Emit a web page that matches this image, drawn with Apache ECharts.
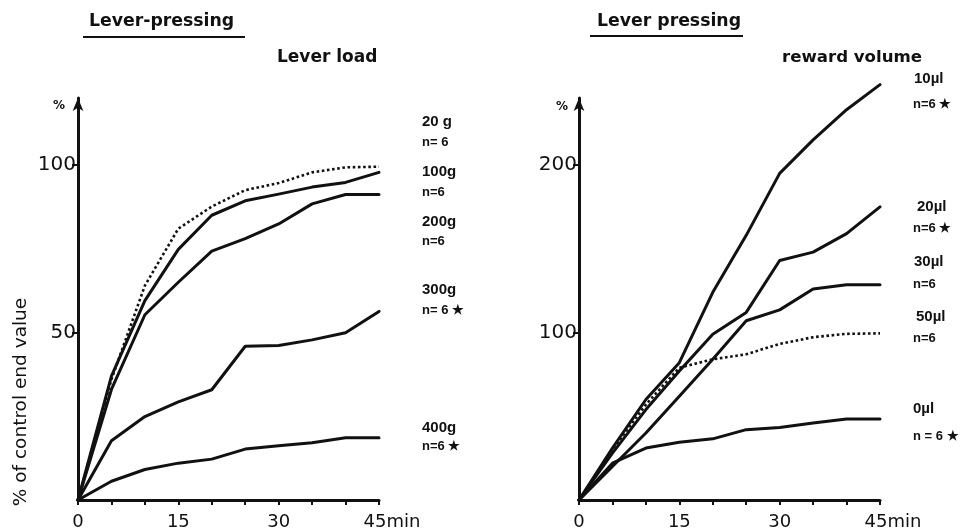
<!DOCTYPE html>
<html><head><meta charset="utf-8">
<script src="https://cdn.jsdelivr.net/npm/echarts@6/dist/echarts.min.js"></script>
<style>html,body{margin:0;padding:0;background:#fff}#c{width:960px;height:531px}</style>
</head><body><div id="c"></div>
<script>
// ---- data ----
const minutes = [0, 5, 10, 15, 20, 25, 30, 35, 40, 45];

const loadNames = ['20 g', '100g', '200g', '300g', '400g'];
const loadN = ['n= 6', 'n=6', 'n=6', 'n= 6 ★', 'n=6 ★'];
const load20 = [0, 36, 64, 81, 87.6, 92.5, 94.6, 97.8, 99.3, 99.5];
const load100 = [0, 37, 59.5, 74.8, 85, 89.3, 91.3, 93.4, 94.8, 97.8];
const load200 = [0, 33, 55.3, 65, 74.3, 78, 82.4, 88.4, 91.2, 91.2];
const load300 = [0, 17.7, 24.9, 29.3, 32.9, 45.9, 46.1, 47.8, 49.9, 56.3];
const load400 = [0, 5.6, 9.1, 11, 12.2, 15.2, 16.2, 17.1, 18.6, 18.6];

const volNames = ['10µl', '20µl', '30µl', '50µl', '0µl'];
const volN = ['n=6 ★', 'n=6 ★', 'n=6', 'n=6', 'n = 6 ★'];
const vol10 = [0, 31, 60, 82, 124, 158, 195, 215, 233, 248];
const vol20 = [0, 28, 54, 77, 99, 112, 143, 148, 159, 175];
const vol30 = [0, 20, 40, 62, 84, 107, 113.5, 126, 128.5, 128.5];
const vol50 = [0, 30, 57, 79, 84, 87, 93.2, 97.2, 99.2, 99.5];
const vol0 = [0, 22, 31, 34.5, 36.5, 42, 43.3, 46, 48.3, 48.3];

const xTickLabels = [0, 15, 30, 45];
const leftYTickLabels = [50, 100];
const rightYTickLabels = [100, 200];

// ---- chart ----
const INK = '#111';
const TICKF = 'DejaVu Sans';
const LABF = 'Liberation Sans';

function ser(g, vals, dotted) {
  return {
    type: 'line', xAxisIndex: g, yAxisIndex: g, symbol: 'none', animation: false, clip: false,
    data: minutes.map((m, i) => [m, vals[i]]),
    lineStyle: { color: INK, width: dotted ? 2.6 : 3, type: dotted ? 'dotted' : 'solid', cap: dotted ? 'butt' : 'round', join: 'round' }
  };
}
function xAx(g) {
  return {
    type: 'value', gridIndex: g, min: 0, max: 45, interval: 5,
    axisLine: { lineStyle: { color: INK, width: 3 } },
    axisTick: { show: true, length: 5, customValues: minutes, lineStyle: { color: INK, width: 2 } },
    splitLine: { show: false },
    axisLabel: {
      customValues: xTickLabels, margin: 13, color: INK, fontFamily: TICKF, fontSize: 18,
      formatter: v => v === 45 ? '{sp|}45{u|min}' : String(v),
      rich: { sp: { width: 26 }, u: { fontFamily: TICKF, fontSize: 18, color: INK } }
    }
  };
}
function yAx(g, max, ticks) {
  return {
    type: 'value', gridIndex: g, min: 0, max: max,
    axisLine: { show: true, symbol: ['none', 'arrow'], symbolSize: [8, 13], lineStyle: { color: INK, width: 3 } },
    axisTick: { show: true, length: 6, customValues: ticks, lineStyle: { color: INK, width: 2 } },
    splitLine: { show: false },
    axisLabel: { customValues: ticks, margin: 2, color: INK, fontFamily: TICKF, fontSize: 20 }
  };
}

const graphics = [];
function txt(x, y, s, size, opts) {
  graphics.push(Object.assign({
    type: 'text', x: x, y: y,
    style: Object.assign({ text: s, fill: INK, font: (opts && opts.weight || 'normal') + ' ' + size + 'px ' + (opts && opts.family || TICKF), textAlign: 'left', textVerticalAlign: 'middle' }, opts && opts.style)
  }, opts && opts.el));
}
function hline(x1, x2, y) {
  graphics.push({ type: 'line', shape: { x1: x1, y1: y, x2: x2, y2: y }, style: { stroke: INK, lineWidth: 2 } });
}
// titles
txt(89, 22, 'Lever-pressing', 17.3, { weight: 'bold' });
hline(83, 245, 37);
txt(277, 58, 'Lever load', 17, { weight: 'bold' });
txt(597, 22, 'Lever pressing', 17.3, { weight: 'bold' });
hline(590, 743, 36);
txt(782, 58, 'reward volume', 16.6, { weight: 'bold' });
// axis unit marks
txt(59, 106, '%', 12, { weight: 'bold', style: { textAlign: 'center' } });
txt(562, 107, '%', 12, { weight: 'bold', style: { textAlign: 'center' } });
// y axis title
txt(21, 402, '% of control end value', 18.5, { style: { textAlign: 'center' }, el: { rotation: Math.PI / 2 } });
// series labels
const loadNameY = [122, 172, 222, 290, 428];
const loadNY = [142, 192, 241, 310, 446];
loadNames.forEach((s, i) => {
  txt(422, loadNameY[i], s, 15, { family: LABF, weight: 'bold' });
  txt(422, loadNY[i], loadN[i], 13, { family: LABF, weight: 'bold' });
});
const volNameY = [79, 207, 262, 317, 409];
const volNY = [104, 228, 284, 338, 436];
const volNameX = [914, 917, 914, 916, 913];
volNames.forEach((s, i) => {
  txt(volNameX[i], volNameY[i], s, 15, { family: LABF, weight: 'bold' });
  txt(913, volNY[i], volN[i], 13, { family: LABF, weight: 'bold' });
});

const chart = echarts.init(document.getElementById('c'), null, { renderer: 'canvas' });
chart.setOption({
  backgroundColor: '#fff',
  animation: false,
  grid: [
    { left: 78, top: 98, width: 301, height: 402 },
    { left: 579, top: 98, width: 301, height: 402 }
  ],
  xAxis: [xAx(0), xAx(1)],
  yAxis: [yAx(0, 120, leftYTickLabels), yAx(1, 240, rightYTickLabels)],
  series: [
    ser(0, load20, true), ser(0, load100), ser(0, load200), ser(0, load300), ser(0, load400),
    ser(1, vol10), ser(1, vol20), ser(1, vol30), ser(1, vol50, true), ser(1, vol0)
  ],
  graphic: graphics
});
</script>
</body></html>
